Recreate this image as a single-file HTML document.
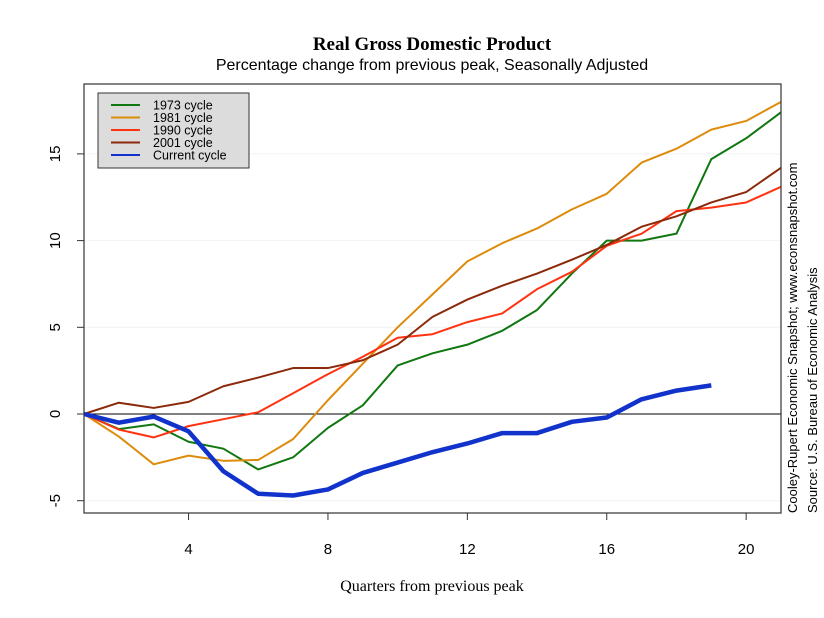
<!DOCTYPE html>
<html><head><meta charset="utf-8"><style>
body{margin:0;background:#fff}
svg{display:block}
</style></head><body>
<svg id="c" width="824" height="618" xmlns="http://www.w3.org/2000/svg">
<text x="432" y="50" text-anchor="middle" font-family="Liberation Serif, serif" font-weight="bold" font-size="19">Real Gross Domestic Product</text>
<text x="432" y="70" text-anchor="middle" font-family="Liberation Sans, sans-serif" font-size="16">Percentage change from previous peak, Seasonally Adjusted</text>
<text x="432" y="591" text-anchor="middle" font-family="Liberation Serif, serif" font-size="16">Quarters from previous peak</text>
<text transform="translate(797,513) rotate(-90)" font-family="Liberation Sans, sans-serif" font-size="13">Cooley-Rupert Economic Snapshot; www.econsnapshot.com</text>
<text transform="translate(817,513) rotate(-90)" font-family="Liberation Sans, sans-serif" font-size="13">Source: U.S. Bureau of Economic Analysis</text>
<g id="grid"></g><g id="axes"></g><g id="series"></g>
<rect x="84" y="84" width="697" height="429" fill="none" stroke="#333" stroke-width="1.2"/>
<g>
<rect x="98" y="93" width="151" height="75" fill="#dcdcdc" stroke="#333"/>
<g id="leg"></g>
</g>
</svg>
<script>
const quarters=[1,2,3,4,5,6,7,8,9,10,11,12,13,14,15,16,17,18,19,20,21];
const c1973=[0,-0.87,-0.6,-1.6,-2.0,-3.2,-2.5,-0.8,0.5,2.8,3.5,4.0,4.8,6.0,8.1,10.0,10.0,10.4,14.7,15.9,17.4];
const c1981=[0,-1.3,-2.9,-2.4,-2.7,-2.65,-1.45,0.8,2.9,5.0,6.9,8.8,9.85,10.7,11.8,12.7,14.5,15.3,16.4,16.9,18.0];
const c1990=[0,-0.9,-1.35,-0.7,-0.3,0.1,1.2,2.3,3.3,4.4,4.6,5.3,5.8,7.2,8.2,9.7,10.4,11.7,11.9,12.2,13.1];
const c2001=[0,0.65,0.35,0.7,1.6,2.1,2.65,2.65,3.1,4.0,5.6,6.6,7.4,8.1,8.9,9.75,10.8,11.4,12.2,12.8,14.2];
const cCurrent=[0,-0.5,-0.15,-1.0,-3.3,-4.6,-4.7,-4.35,-3.4,-2.8,-2.2,-1.7,-1.1,-1.1,-0.45,-0.2,0.85,1.35,1.65];
const xTicks=[4,8,12,16,20];
const yTicks=[-5,0,5,10,15];
const seriesNames=["1973 cycle","1981 cycle","1990 cycle","2001 cycle","Current cycle"];
const NS="http://www.w3.org/2000/svg";
const X=q=>84+(q-1)*(697/20);
const Y=v=>414-v*17.34;
function mk(tag,attrs,parent){const e=document.createElementNS(NS,tag);for(const k in attrs)e.setAttribute(k,attrs[k]);parent.appendChild(e);return e;}
const grid=document.getElementById('grid'),axes=document.getElementById('axes'),ser=document.getElementById('series'),leg=document.getElementById('leg');
yTicks.forEach(v=>{
 if(v!==0){const g=mk('line',{x1:84,x2:781,y1:Y(v),y2:Y(v),stroke:'#f2f2f2','stroke-width':1},grid);
 
 }
 const t=mk('line',{x1:77,x2:84,y1:Y(v),y2:Y(v),stroke:'#333'},axes);
 
 
 const l=mk('text',{transform:`translate(60,${Y(v)}) rotate(-90)`,'text-anchor':'middle','font-family':'Liberation Sans, sans-serif','font-size':15},axes);
 l.textContent=v;
 
 
});
xTicks.forEach(q=>{
 const t=mk('line',{x1:X(q),x2:X(q),y1:513,y2:520,stroke:'#333'},axes);
 
 
 const l=mk('text',{x:X(q),y:554,'text-anchor':'middle','font-family':'Liberation Sans, sans-serif','font-size':15},axes);
 l.textContent=q;
 
 
});
const z=mk('line',{x1:84,x2:781,y1:Y(0),y2:Y(0),stroke:'#000','stroke-width':1},axes);


const all=[c1973,c1981,c1990,c2001,cCurrent];
const colors=['#117711','#dd8b0b','#ff3311','#8b2a0a','#1133cc'];
const widths=[2,2,2,2,4.5];
all.forEach((d,i)=>{
 const p=mk('polyline',{points:d.map((v,j)=>X(quarters[j])+','+Y(v)).join(' '),fill:'none',stroke:colors[i],'stroke-width':widths[i],'stroke-linejoin':'round'},ser);
 
 
 const y=105+i*12.5;
 const ll=mk('line',{x1:111,x2:140,y1:y,y2:y,stroke:colors[i],'stroke-width':2},leg);
 
 
 const lt=mk('text',{x:153,y:y+4.5,'font-family':'Liberation Sans, sans-serif','font-size':12.5},leg);
 lt.textContent=seriesNames[i];
 
 
});
</script>
</body></html>
